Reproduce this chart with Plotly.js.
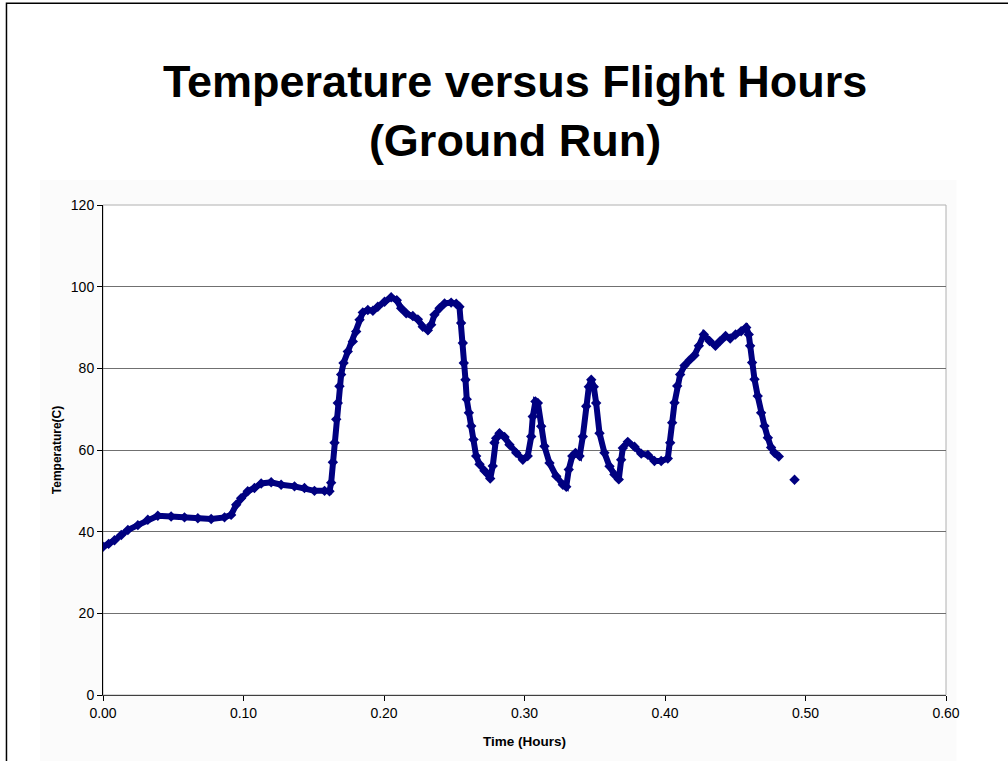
<!DOCTYPE html>
<html>
<head>
<meta charset="utf-8">
<script src="https://cdn.plot.ly/plotly-3.0.1.min.js"></script>
<style>
html, body { margin: 0; padding: 0; background: #ffffff; }
#chart { width: 1008px; height: 761px; }
</style>
</head>
<body>
<div id="chart"></div>
<script>
// Time in hours (x) and temperature in °C (y)
var timeHours = [
  0.000, 0.004, 0.0082, 0.013, 0.0177, 0.0248, 0.0319, 0.039, 0.0485, 0.058,
  0.0675, 0.077, 0.0865, 0.0912, 0.0948, 0.0983, 0.103, 0.1078, 0.1126, 0.1197,
  0.1268, 0.1363, 0.1434, 0.1505, 0.1577, 0.1612, 0.1624, 0.1636, 0.1648, 0.166,
  0.1671, 0.1683, 0.1695, 0.1712, 0.1742, 0.1778, 0.1802, 0.1826, 0.1849, 0.1885,
  0.1921, 0.1956, 0.2004, 0.2051, 0.2091, 0.2122, 0.2158, 0.2205, 0.2241, 0.2276,
  0.2312, 0.2336, 0.2359, 0.2395, 0.2431, 0.2478, 0.2514, 0.2537, 0.2549, 0.2561,
  0.2568, 0.258, 0.2589, 0.2604, 0.2621, 0.2637, 0.2656, 0.268, 0.2715, 0.2756,
  0.2774, 0.2786, 0.2798, 0.2822, 0.2858, 0.2893, 0.2941, 0.2988, 0.3023, 0.3048,
  0.3059, 0.3078, 0.3095, 0.3119, 0.3142, 0.3178, 0.3226, 0.3273, 0.3297, 0.3315,
  0.334, 0.3363, 0.3392, 0.3415, 0.3439, 0.3458, 0.3475, 0.3493, 0.351, 0.3534,
  0.3569, 0.3605, 0.364, 0.3671, 0.3688, 0.37, 0.3735, 0.3783, 0.3831, 0.3878,
  0.3925, 0.3973, 0.402, 0.4037, 0.4051, 0.4068, 0.4087, 0.4108, 0.4139, 0.4174,
  0.421, 0.4241, 0.4276, 0.4317, 0.4359, 0.4393, 0.4431, 0.4464, 0.4502, 0.4542,
  0.4578, 0.4596, 0.4606, 0.462, 0.4637, 0.466, 0.4684, 0.4708, 0.4732, 0.4755,
  0.4779, 0.481, 0.486, 0.4922
];
var temperatureC = [
  36.3, 37.0, 37.9, 39.2, 40.4, 41.6, 42.9, 43.9, 43.7, 43.5,
  43.3, 43.1, 43.5, 44.1, 46.6, 48.2, 49.9, 50.7, 51.8, 52.1,
  51.5, 51.1, 50.7, 50.0, 50.0, 49.9, 52.0, 57.0, 61.8, 67.5,
  71.5, 75.6, 78.5, 81.3, 84.1, 86.6, 89.0, 91.9, 93.7, 94.3,
  94.1, 95.1, 96.3, 97.4, 96.7, 94.7, 93.5, 92.8, 92.0, 90.2,
  89.3, 90.7, 93.1, 94.7, 95.9, 96.1, 95.8, 95.1, 91.1, 86.2,
  81.3, 77.2, 72.4, 69.1, 65.9, 62.6, 58.5, 56.5, 54.9, 53.0,
  56.1, 61.8, 62.9, 64.1, 63.2, 61.3, 59.3, 57.6, 58.5, 63.3,
  68.2, 71.9, 71.5, 65.8, 60.9, 56.8, 53.6, 51.5, 51.0, 55.2,
  58.5, 59.3, 58.5, 63.3, 70.7, 75.5, 77.2, 75.5, 71.5, 64.1,
  59.3, 56.0, 54.0, 52.8, 57.6, 60.5, 62.0, 60.8, 59.1, 58.8,
  57.3, 57.3, 57.9, 61.8, 66.7, 71.6, 75.7, 78.5, 80.7, 82.0,
  83.2, 85.5, 88.3, 86.7, 85.5, 86.7, 87.9, 87.3, 88.3, 89.1,
  90.0, 88.3, 85.5, 81.4, 77.3, 73.2, 69.1, 65.9, 63.0, 60.6,
  59.3, 58.4, null, 52.7
];
var xTickVals = [0, 0.1, 0.2, 0.3, 0.4, 0.5, 0.6];
var xTickText = ['0.00', '0.10', '0.20', '0.30', '0.40', '0.50', '0.60'];
var yTickVals = [0, 20, 40, 60, 80, 100, 120];

var FONT = 'Liberation Sans, Arial, Helvetica, sans-serif';
var NAVY = '#000080';

var trace = {
  x: timeHours,
  y: temperatureC,
  type: 'scatter',
  mode: 'lines+markers',
  connectgaps: false,
  line: { color: NAVY, width: 6 },
  marker: { symbol: 'diamond', size: 8, color: NAVY, line: { width: 0 } },
  hoverinfo: 'x+y',
  showlegend: false
};

var layout = {
  width: 1008,
  height: 761,
  margin: { l: 103, r: 62, t: 205, b: 66, pad: 0 },
  paper_bgcolor: '#ffffff',
  plot_bgcolor: 'rgba(0,0,0,0)',
  font: { family: FONT, color: '#000000', size: 14 },
  title: {
    text: '<b>Temperature versus Flight Hours</b><br><b>(Ground Run)</b>',
    font: { family: FONT, size: 45, color: '#000000' },
    x: 0.511, xref: 'container', xanchor: 'center',
    y: 0.872, yref: 'container', yanchor: 'top'
  },
  xaxis: {
    range: [0, 0.6],
    tickvals: xTickVals,
    ticktext: xTickText,
    ticks: 'outside', ticklen: 5, tickcolor: '#000000', tickwidth: 1,
    showline: true, linecolor: '#404040', linewidth: 1,
    showgrid: false, zeroline: false,
    tickfont: { family: FONT, size: 14, color: '#000000' },
    title: { text: '<b>Time (Hours)</b>', font: { family: FONT, size: 13.5, color: '#000000' }, standoff: 16 }
  },
  yaxis: {
    range: [0, 120],
    tickvals: yTickVals,
    ticks: 'outside', ticklen: 5, tickcolor: '#000000', tickwidth: 1,
    showline: true, linecolor: '#000000', linewidth: 1,
    showgrid: true, gridcolor: '#707070', gridwidth: 1,
    zeroline: false,
    tickfont: { family: FONT, size: 14, color: '#000000' },
    title: { text: '<b>Temperature(C)</b>', font: { family: FONT, size: 12, color: '#000000' }, standoff: 6 }
  },
  shapes: [
    { type: 'rect', xref: 'paper', yref: 'paper', x0: -0.0745, x1: 1.0125, y0: -0.15, y1: 1.051,
      fillcolor: '#fbfbfb', line: { width: 0 }, layer: 'below' },
    { type: 'rect', xref: 'paper', yref: 'paper', x0: 0, x1: 1, y0: 0, y1: 1,
      fillcolor: '#ffffff', line: { color: '#b0b0b0', width: 1 }, layer: 'below' },
    { type: 'path', xref: 'paper', yref: 'paper',
      path: 'M -0.1145 -0.2 L -0.1145 1.4118 L 1.1 1.4118',
      line: { color: '#000000', width: 1.5 }, layer: 'below' }
  ]
};

Plotly.newPlot('chart', [trace], layout, { displayModeBar: false, staticPlot: true });
</script>
</body>
</html>
